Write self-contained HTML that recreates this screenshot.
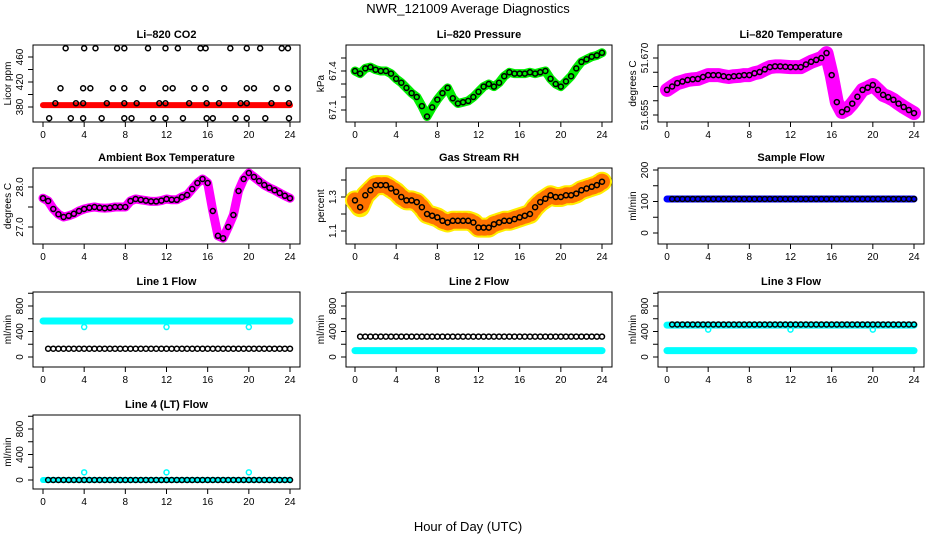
<!DOCTYPE html>
<html><head><meta charset="utf-8">
<style>
body{margin:0;background:#fff;}
svg{display:block;font-family:"Liberation Sans",sans-serif;}
</style></head>
<body>
<svg id="c" width="936" height="540" viewBox="0 0 936 540">
<text x="468" y="13" text-anchor="middle" font-size="13">NWR_121009  Average Diagnostics</text>
<text x="468" y="531" text-anchor="middle" font-size="13">Hour of Day (UTC)</text>
</svg>
<script>
// ---- data ----
const halfHours = [0,0.5,1,1.5,2,2.5,3,3.5,4,4.5,5,5.5,6,6.5,7,7.5,8,8.5,9,9.5,10,10.5,11,11.5,12,12.5,13,13.5,14,14.5,15,15.5,16,16.5,17,17.5,18,18.5,19,19.5,20,20.5,21,21.5,22,22.5,23,23.5,24];
const hours = [0,1,2,3,4,5,6,7,8,9,10,11,12,13,14,15,16,17,18,19,20,21,22,23,24];
const xTicks = [0,4,8,12,16,20,24];

const co2Band = [383,383,383,383,383,383,383,383,383,383,383,383,383,383,383,383,383,383,383,383,383,383,383,383,383];
const co2HighHours = [2.2,4.0,5.1,7.2,7.9,10.2,11.9,13.1,15.3,15.8,18.2,19.8,21.1,23.2,23.8];
const co2HighVals = [474,474,474,474,474,474,474,474,474,474,474,474,474,474,474];
const co2MidHours = [1.7,3.9,4.6,6.8,7.9,9.7,11.9,12.6,14.7,15.8,17.6,19.8,20.5,22.7,23.8];
const co2MidVals = [410,410,410,410,410,410,410,410,410,410,410,410,410,410,410];
const co2LowHours = [1.2,3.2,3.9,6.2,7.9,9.1,11.3,11.9,14.2,15.9,17.1,19.2,19.8,22.2,23.9];
const co2LowVals = [386,386,386,386,386,386,386,386,386,386,386,386,386,386,386];
const co2MinHours = [0.6,2.7,3.9,5.7,7.9,8.6,10.7,11.9,13.6,15.9,16.5,18.7,19.8,21.6,23.9];
const co2MinVals = [362,362,362,362,362,362,362,362,362,362,362,362,362,362,362];

const pressVals = [67.40,67.38,67.42,67.43,67.41,67.40,67.40,67.38,67.34,67.31,67.27,67.23,67.20,67.13,67.05,67.12,67.18,67.23,67.27,67.19,67.15,67.16,67.17,67.20,67.24,67.28,67.30,67.28,67.31,67.36,67.39,67.38,67.38,67.38,67.39,67.38,67.39,67.40,67.34,67.30,67.28,67.32,67.36,67.42,67.47,67.49,67.51,67.52,67.54];

const tempVals = [51.6616,51.6625,51.6634,51.6638,51.6642,51.6644,51.6645,51.6650,51.6655,51.6655,51.6655,51.6652,51.6650,51.6652,51.6653,51.6655,51.6655,51.6660,51.6663,51.6670,51.6676,51.6678,51.6678,51.6677,51.6676,51.6676,51.6676,51.6683,51.6690,51.6695,51.6700,51.6713,51.6655,51.6584,51.6558,51.6565,51.6580,51.6598,51.6616,51.6622,51.6629,51.6616,51.6603,51.6597,51.6590,51.6580,51.6571,51.6563,51.6555];

const ambVals = [27.72,27.65,27.45,27.32,27.25,27.28,27.33,27.40,27.45,27.48,27.50,27.48,27.47,27.48,27.50,27.50,27.50,27.65,27.70,27.68,27.66,27.64,27.64,27.66,27.70,27.68,27.68,27.75,27.80,27.95,28.10,28.20,28.10,27.40,26.78,26.72,27.00,27.30,27.90,28.20,28.35,28.25,28.15,28.05,27.98,27.92,27.85,27.78,27.72];

const rhVals = [1.28,1.24,1.31,1.34,1.37,1.37,1.37,1.35,1.33,1.30,1.28,1.28,1.27,1.24,1.20,1.19,1.18,1.16,1.15,1.16,1.16,1.16,1.16,1.15,1.12,1.12,1.12,1.14,1.15,1.16,1.16,1.17,1.18,1.19,1.20,1.24,1.27,1.29,1.31,1.30,1.30,1.31,1.31,1.32,1.34,1.35,1.36,1.37,1.39];

const sampleBand = [108,108,108,108,108,108,108,108,108,108,108,108,108,108,108,108,108,108,108,108,108,108,108,108,108];
const sampleBlack = [108,108,108,108,108,108,108,108,108,108,108,108,108,108,108,108,108,108,108,108,108,108,108,108,108,108,108,108,108,108,108,108,108,108,108,108,108,108,108,108,108,108,108,108,108,108,108,108];

const line1Cyan = [565,565,565,565,565,565,565,565,565,565,565,565,565,565,565,565,565,565,565,565,565,565,565,565,565];
const line1Black = [130,130,130,130,130,130,130,130,130,130,130,130,130,130,130,130,130,130,130,130,130,130,130,130,130,130,130,130,130,130,130,130,130,130,130,130,130,130,130,130,130,130,130,130,130,130,130,130];
const line1OutHours = [4,12,20];
const line1OutVals = [470,470,470];

const line2Cyan = [100,100,100,100,100,100,100,100,100,100,100,100,100,100,100,100,100,100,100,100,100,100,100,100,100];
const line2Black = [320,320,320,320,320,320,320,320,320,320,320,320,320,320,320,320,320,320,320,320,320,320,320,320,320,320,320,320,320,320,320,320,320,320,320,320,320,320,320,320,320,320,320,320,320,320,320,320];

const line3CyanHigh = [500,500,500,500,500,500,500,500,500,500,500,500,500,500,500,500,500,500,500,500,500,500,500,500,500];
const line3CyanLow = [100,100,100,100,100,100,100,100,100,100,100,100,100,100,100,100,100,100,100,100,100,100,100,100,100];
const line3Black = [510,510,510,510,510,510,510,510,510,510,510,510,510,510,510,510,510,510,510,510,510,510,510,510,510,510,510,510,510,510,510,510,510,510,510,510,510,510,510,510,510,510,510,510,510,510,510,510];
const line3OutHours = [4,12,20];
const line3OutVals = [430,430,430];

const line4Cyan = [0,0,0,0,0,0,0,0,0,0,0,0,0,0,0,0,0,0,0,0,0,0,0,0,0];
const line4Black = [0,0,0,0,0,0,0,0,0,0,0,0,0,0,0,0,0,0,0,0,0,0,0,0,0,0,0,0,0,0,0,0,0,0,0,0,0,0,0,0,0,0,0,0,0,0,0,0];
const line4OutHours = [4,12,20];
const line4OutVals = [120,120,120];

// ---- layout ----
const NS = 'http://www.w3.org/2000/svg';
const svg = document.getElementById('c');
const boxL = [33,346,658], boxR = [300,612,924], x0s = [43,355,667];
const rowT = [45,168,292,415], rowB = [122,244,367,489];
const XS = 247/24;
const blackHours = halfHours.slice(1);

function mk(tag, attrs, parent){
  const e = document.createElementNS(NS, tag);
  for (const k in attrs) e.setAttribute(k, attrs[k]);
  (parent||svg).appendChild(e);
  return e;
}

function panel(col,row,name,title,ylab,ref,ticks,labels){
  const g = mk('g',{});
  
  
  const L=boxL[col], R=boxR[col], T=rowT[row], B=rowB[row];
  const x = h => x0s[col] + h*XS;
  const y = v => ref[1] + (v-ref[0])*(ref[3]-ref[1])/(ref[2]-ref[0]);
  const t = mk('text',{x:(L+R)/2,y:T-7,'text-anchor':'middle','font-size':11,'font-weight':'bold'},g);
  t.textContent = title;
  
  
  const box = mk('rect',{x:L,y:T,width:R-L,height:B-T,fill:'none',stroke:'#000','stroke-width':1},g);
  
  
  const xa = mk('g',{},g);
  
  
  xTicks.forEach(v=>{
    mk('line',{x1:x(v),x2:x(v),y1:B,y2:B+5,stroke:'#000'},xa);
    const tl = mk('text',{x:x(v),y:B+16,'text-anchor':'middle','font-size':10},xa);
    tl.textContent = v;
  });
  const ya = mk('g',{},g);
  
  
  ticks.forEach(v=>{ mk('line',{x1:L-5,x2:L,y1:y(v),y2:y(v),stroke:'#000'},ya); });
  labels.forEach(l=>{
    const yy = y(parseFloat(l));
    const tl = mk('text',{x:0,y:0,'text-anchor':'middle','font-size':10,transform:`translate(${L-10},${yy}) rotate(-90)`},ya);
    tl.textContent = l;
  });
  const yt = mk('text',{x:0,y:0,'text-anchor':'middle','font-size':10,transform:`translate(${L-22},${(T+B)/2}) rotate(-90)`},g);
  yt.textContent = ylab;
  
  
  const dg = mk('g',{},g);
  return {x,y,g:dg,name};
}

function band(p, xs, vals, color, w, nm){
  const pts = xs.map((h,i)=>p.x(h).toFixed(1)+','+p.y(vals[i]).toFixed(1)).join(' ');
  const pl = mk('polyline',{points:pts,fill:'none',stroke:color,'stroke-width':w,'stroke-linejoin':'round','stroke-linecap':'round'},p.g);
  
  
  return pl;
}
function points(p, xs, vals, color, nm, r){
  const gg = mk('g',{},p.g);
  
  
  xs.forEach((h,i)=>{
    mk('circle',{cx:p.x(h),cy:p.y(vals[i]),r:r||2.5,fill:'none',stroke:color,'stroke-width':1.5},gg);
  });
}

// Row 1
let p = panel(0,0,'co2','Li\u2013820 CO2','Licor ppm',[460,57,380,107],[380,400,420,440,460],['380','420','460']);
band(p,hours,co2Band,'#ff0000',6,'band');
points(p,co2HighHours,co2HighVals,'#000','high-points');
points(p,co2MidHours,co2MidVals,'#000','mid-points');
points(p,co2LowHours,co2LowVals,'#000','low-points');
points(p,co2MinHours,co2MinVals,'#000','min-points');

p = panel(1,0,'pressure','Li\u2013820 Pressure','kPa',[67.4,71,67.1,110],[67.1,67.2,67.3,67.4,67.5],['67.1','67.4']);
band(p,halfHours,pressVals,'#00ee00',9,'band');
points(p,halfHours,pressVals,'#000','points');

p = panel(2,0,'li820-temp','Li\u2013820 Temperature','degrees C',[51.670,58,51.655,115],[51.655,51.65875,51.6625,51.66625,51.670],['51.670','51.655']);
band(p,halfHours,tempVals,'#ff00ff',14,'band');
points(p,halfHours,tempVals,'#000','points');

// Row 2
p = panel(0,1,'ambient','Ambient Box Temperature','degrees C',[28,187,27,227],[27,27.5,28],['27.0','28.0']);
band(p,halfHours,ambVals,'#ff00ff',9,'band');
points(p,halfHours,ambVals,'#000','points');

p = panel(1,1,'rh','Gas Stream RH','percent',[1.3,197,1.1,231],[1.1,1.2,1.3,1.4],['1.1','1.3']);
band(p,halfHours,rhVals,'#ffee00',20,'band');
const rb = band(p,halfHours,rhVals,'#ff2200',16,'band-core');
rb.setAttribute('stroke-dasharray','1.5,4');
rb.setAttribute('stroke-opacity','0.6');
points(p,halfHours,rhVals,'#000','points');

p = panel(2,1,'sample-flow','Sample Flow','ml/min',[200,170,0,233],[0,50,100,150,200],['0','100','200']);
band(p,hours,sampleBand,'#0000ff',7,'band');
points(p,blackHours,sampleBlack,'#000','points');

// Row 3
const flowRef3 = [0,357,800,306], flowRef4 = [0,480,800,429];
const flowTicks = [0,200,400,600,800,1000], flowLabels = ['0','400','800'];
p = panel(0,2,'line1-flow','Line 1 Flow','ml/min',flowRef3,flowTicks,flowLabels);
band(p,hours,line1Cyan,'#00ffff',7,'band');
points(p,line1OutHours,line1OutVals,'#00ffff','outliers');
points(p,blackHours,line1Black,'#000','points');

p = panel(1,2,'line2-flow','Line 2 Flow','ml/min',flowRef3,flowTicks,flowLabels);
band(p,hours,line2Cyan,'#00ffff',7,'band');
points(p,blackHours,line2Black,'#000','points');

p = panel(2,2,'line3-flow','Line 3 Flow','ml/min',flowRef3,flowTicks,flowLabels);
band(p,hours,line3CyanHigh,'#00ffff',7,'band-high');
band(p,hours,line3CyanLow,'#00ffff',7,'band-low');
points(p,line3OutHours,line3OutVals,'#00ffff','outliers');
points(p,blackHours,line3Black,'#000','points');

// Row 4
p = panel(0,3,'line4-flow','Line 4 (LT) Flow','ml/min',flowRef4,flowTicks,flowLabels);
band(p,hours,line4Cyan,'#00ffff',6,'band');
points(p,line4OutHours,line4OutVals,'#00ffff','outliers');
points(p,blackHours,line4Black,'#000','points');
</script>
</body></html>
